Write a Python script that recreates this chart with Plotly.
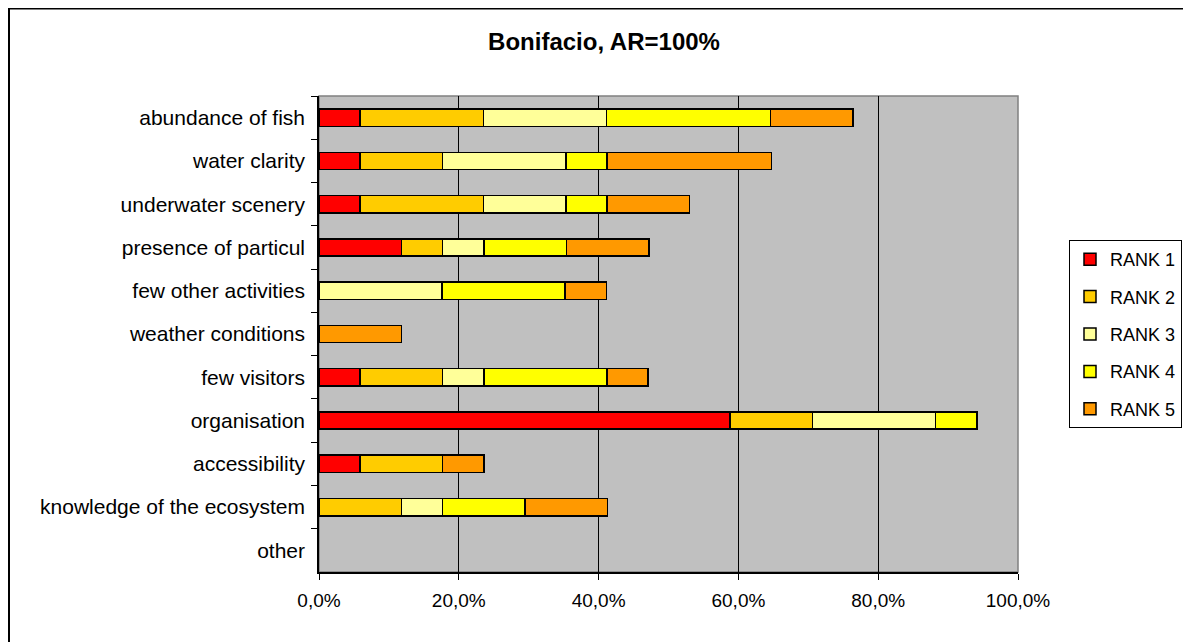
import plotly.graph_objects as go

categories = ["abundance of fish", "water clarity", "underwater scenery", "presence of particul",
              "few other activities", "weather conditions", "few visitors", "organisation",
              "accessibility", "knowledge of the ecosystem", "other"]
rank1 = [5.9, 5.9, 5.9, 11.8, 0, 0, 5.9, 58.8, 5.9, 0, 0]
rank2 = [17.6, 11.8, 17.6, 5.9, 0, 0, 11.8, 11.8, 11.8, 11.8, 0]
rank3 = [17.6, 17.6, 11.8, 5.9, 17.6, 0, 5.9, 17.6, 0, 5.9, 0]
rank4 = [23.5, 5.9, 5.9, 11.8, 17.6, 0, 17.6, 5.9, 0, 11.8, 0]
rank5 = [11.8, 23.5, 11.8, 11.8, 5.9, 11.8, 5.9, 0, 5.9, 11.8, 0]
series_names = ["RANK 1", "RANK 2", "RANK 3", "RANK 4", "RANK 5"]
series_values = [rank1, rank2, rank3, rank4, rank5]
colors = ["#FF0000", "#FFCC00", "#FFFF99", "#FFFF00", "#FF9900"]
x_ticks = [0, 20, 40, 60, 80, 100]
x_tick_labels = ["0,0%", "20,0%", "40,0%", "60,0%", "80,0%", "100,0%"]

FONT = "Liberation Sans, Arial, sans-serif"

# the page body adds an 8px offset; the figure is sized/positioned to compensate
W, H = 1183, 634
OFF = 8
PL, PR, PT, PB = 319, 1018, 96, 572  # plot area in page pixels

fig = go.Figure()
for name, vals, col in zip(series_names, series_values, colors):
    fig.add_trace(go.Bar(
        y=categories, x=[v if v > 0 else None for v in vals], name=name, orientation="h",
        marker=dict(color=col, line=dict(color="black", width=1.5)),
        legendgroup=name,
    ))

fig.update_layout(
    barmode="stack",
    bargap=0.6,
    width=W, height=H,
    margin=dict(l=PL - OFF, r=W - (PR - OFF), t=PT - OFF, b=H - (PB - OFF), autoexpand=False),
    paper_bgcolor="white",
    plot_bgcolor="#C0C0C0",
    font=dict(family=FONT, size=19, color="black"),
    title=dict(text="<b>Bonifacio, AR=100%</b>", x=(604 - OFF) / W, xref="container", xanchor="center",
               y=1 - (42 - OFF) / H, yref="container", yanchor="middle",
               font=dict(family=FONT, size=24, color="black")),
    legend=dict(x=(1069 - OFF) / W, y=1 - (240 - OFF) / H, xref="container", yref="container",
                xanchor="left", yanchor="top", itemwidth=30,
                bordercolor="black", borderwidth=1, bgcolor="white",
                font=dict(family=FONT, size=18), tracegroupgap=11, traceorder="grouped"),
    xaxis=dict(range=[0, 100], tickvals=x_ticks, ticktext=x_tick_labels,
               showgrid=True, gridcolor="black", gridwidth=1,
               showline=True, linecolor="black", linewidth=1.5,
               ticks="outside", ticklen=6, tickcolor="black", zeroline=False,
               tickfont=dict(size=19), ticklabelstandoff=4, fixedrange=True),
    yaxis=dict(type="category", categoryorder="array", categoryarray=categories,
               autorange="reversed", showgrid=False,
               showline=True, linecolor="black", linewidth=1.5,
               ticks="outside", tickson="boundaries", ticklen=6, tickcolor="black",
               tickfont=dict(size=21), ticklabelstandoff=8),
)
# gray frame for the top and right edges of the plot area
fig.add_shape(type="rect", xref="paper", yref="paper", x0=0, x1=1, y0=0, y1=1,
              line=dict(color="#808080", width=1.5), layer="below")
# outer chart border (left and top edges visible)
fig.add_shape(type="rect", xref="paper", yref="paper",
              x0=-(PL - OFF - 1) / (PR - PL), x1=1.4, y0=-0.3, y1=1 + (PT - OFF - 0.5) / (PB - PT),
              line=dict(color="black", width=2))

fig.write_html("out.html")
